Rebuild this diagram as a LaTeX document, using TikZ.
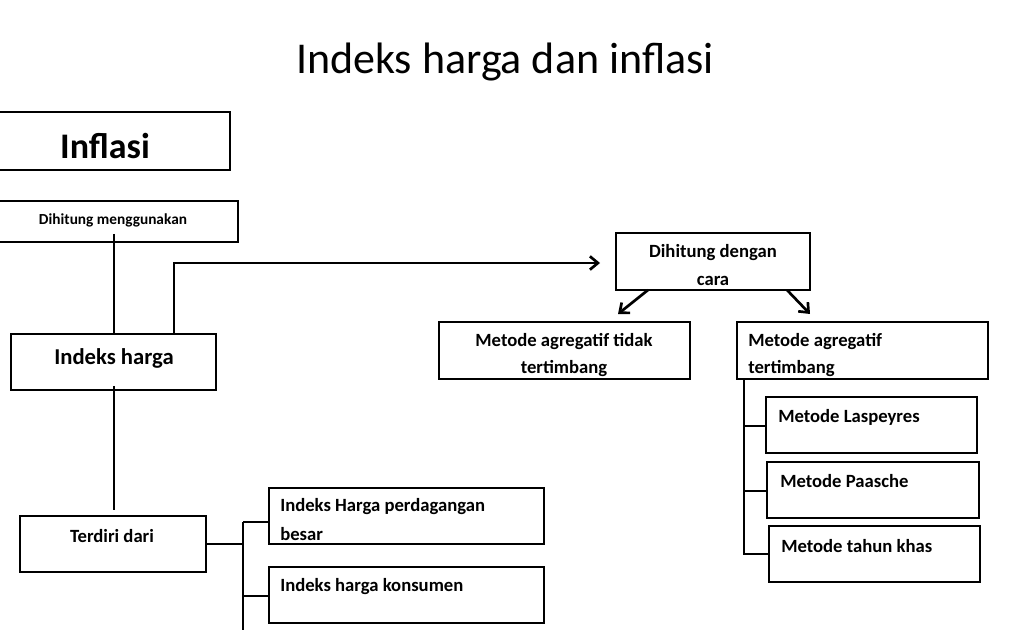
\documentclass[tikz,border=0pt]{standalone}
\usepackage{fontspec}
\setmainfont{Carlito}
\begin{document}
\begin{tikzpicture}[x=0.75pt,y=-0.75pt,
  bx/.style={draw,line width=2pt},
  ln/.style={line width=2pt},
  tx/.style={font=\bfseries\fontsize{14}{20}\selectfont,inner sep=0pt},
  arr/.style={line width=2pt,-{Straight Barb[length=6pt,width=10pt]}}]
\useasboundingbox (0,0) rectangle (1024,630);
\usetikzlibrary{arrows.meta}
\node[font=\fontsize{33}{40}\selectfont] (title) at (505,62) {Indeks harga dan inflasi};
% boxes
\draw[bx] (-5,112) rectangle (230,170);
\node[font=\bfseries\fontsize{27}{32}\selectfont] (infl) at (105,146) {Inflasi};
\draw[bx] (-5,201) rectangle (238,242);
\node[tx,font=\bfseries\fontsize{11.5}{14}\selectfont] (dm) at (113,220) {Dihitung menggunakan};
\draw[bx] (11,334) rectangle (216,390);
\node[tx,font=\bfseries\fontsize{17}{20}\selectfont] (ih) at (114,358) {Indeks harga};
\draw[bx] (20,516) rectangle (206,572);
\node[tx] (td) at (112,536) {Terdiri dari};
\draw[bx] (269,488) rectangle (544,544);
\node[tx,anchor=west] (p1) at (280,507) {Indeks Harga perdagangan};
\node[tx,anchor=west] (p2) at (280,534) {besar};
\draw[bx] (269,567) rectangle (544,623);
\node[tx,anchor=west] (ihk) at (280,587) {Indeks harga konsumen};
\draw[bx] (616,233) rectangle (810,290);
\node[tx] (dc1) at (713,253) {Dihitung dengan};
\node[tx] (dc2) at (713,281) {cara};
\draw[bx] (439,322) rectangle (690,379);
\node[tx] (t1) at (564,342) {Metode agregatif tidak};
\node[tx] (t2) at (564,369) {tertimbang};
\draw[bx] (737,322) rectangle (988,379);
\node[tx,anchor=west] (w1) at (748,342) {Metode agregatif};
\node[tx,anchor=west] (w2) at (748,369) {tertimbang};
\draw[bx] (766,397) rectangle (977,453);
\node[tx,anchor=west] (la) at (778,417) {Metode Laspeyres};
\draw[bx] (767,462) rectangle (979,518);
\node[tx,anchor=west] (pa) at (780,481) {Metode Paasche};
\draw[bx] (769,526) rectangle (980,582);
\node[tx,anchor=west] (tk) at (781,546) {Metode tahun khas};
% connectors
\draw[ln] (114,234) -- (114,334);
\draw[ln] (114,386) -- (114,510);
\draw[arr] (174,334) -- (174,263) -- (600,263);
\draw[arr] (648,290) -- (618,314);
\draw[arr] (787,290) -- (810,314);
\draw[ln] (206,544) -- (243,544);
\draw[ln] (243,522) -- (243,632);
\draw[ln] (243,522) -- (269,522);
\draw[ln] (243,596) -- (269,596);
\draw[ln] (744,379) -- (744,554) -- (769,554);
\draw[ln] (744,426) -- (766,426);
\draw[ln] (744,491) -- (767,491);
\end{tikzpicture}
\end{document}
